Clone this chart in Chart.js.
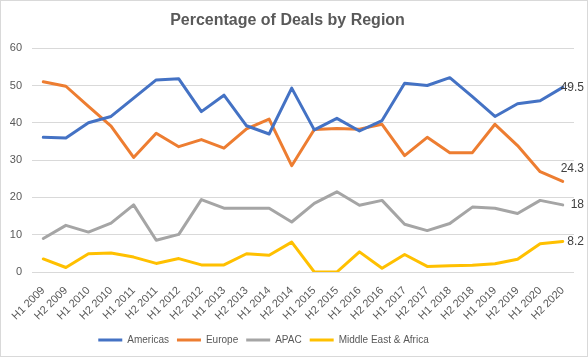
<!DOCTYPE html>
<html>
<head>
<meta charset="utf-8">
<script src="https://cdn.jsdelivr.net/npm/chart.js@4.4.1/dist/chart.umd.min.js"></script>
<style>
  html, body { margin: 0; padding: 0; background: #fff; }
  #wrap { width: 588px; height: 357px; box-sizing: border-box; border: 1px solid #d9d9d9; background: #fff; }
  canvas { display: block; }
</style>
</head>
<body>
<div id="wrap"><canvas id="c" width="586" height="355"></canvas></div>
<script>
const categories = ["H1 2009","H2 2009","H1 2010","H2 2010","H1 2011","H2 2011","H1 2012","H2 2012",
  "H1 2013","H2 2013","H1 2014","H2 2014","H1 2015","H2 2015","H1 2016","H2 2016",
  "H1 2017","H2 2017","H1 2018","H2 2018","H1 2019","H2 2019","H1 2020","H2 2020"];
const americas = [36.1,35.9,40.0,41.7,46.6,51.5,51.8,43.0,47.4,39.2,37.0,49.3,38.1,41.2,37.8,40.6,50.6,50.0,52.1,47.0,41.7,45.1,45.9,49.5];
const europe   = [51.0,49.8,44.4,39.1,30.7,37.2,33.6,35.5,33.2,38.4,41.0,28.5,38.2,38.5,38.3,39.6,31.2,36.1,32.0,32.0,39.6,33.9,26.9,24.3];
const apac     = [9.0,12.5,10.7,13.1,18.0,8.5,10.1,19.4,17.1,17.1,17.1,13.4,18.4,21.5,17.9,19.2,12.8,11.1,13.0,17.4,17.1,15.7,19.2,18.0];
const mea      = [3.5,1.2,4.9,5.1,4.0,2.3,3.6,1.9,1.9,4.9,4.5,8.0,0.0,0.0,5.4,1.0,4.7,1.5,1.7,1.8,2.2,3.4,7.6,8.2];
const yTicks = [0,10,20,30,40,50,60];

const FONT = "'Liberation Sans', Arial, sans-serif";
const GREY = "#595959";

function ds(label, data, color, labelShift) {
  return { label, data, borderColor: color, backgroundColor: color, borderWidth: 3,
    pointRadius: 0, pointHoverRadius: 0, tension: 0, fill: false, labelShift,
    borderCapStyle: 'round', borderJoinStyle: 'round' };
}

const lastLabels = {
  id: 'lastLabels',
  afterDatasetsDraw(chart) {
    const ctx = chart.ctx;
    ctx.save();
    ctx.font = "12px " + FONT;
    ctx.fillStyle = "#404040";
    ctx.textAlign = "right";
    ctx.textBaseline = "middle";
    chart.data.datasets.forEach((d, i) => {
      const meta = chart.getDatasetMeta(i);
      const pt = meta.data[meta.data.length - 1];
      const v = d.data[d.data.length - 1];
      ctx.fillText(String(v % 1 === 0 ? v.toFixed(0) : v), chart.chartArea.right + 10, pt.y + (d.labelShift || 0));
    });
    ctx.restore();
  }
};

const legendShift = {
  id: 'legendShift',
  afterLayout(chart) {
    if (chart.legend) { chart.legend.right -= 48; }
  }
};

new Chart(document.getElementById('c'), {
  type: 'line',
  data: {
    labels: categories,
    datasets: [
      ds('Americas', americas, '#4472C4', 0),
      ds('Europe', europe, '#ED7D31', -13),
      ds('APAC', apac, '#A5A5A5', 0),
      ds('Middle East & Africa', mea, '#FFC000', 0)
    ]
  },
  options: {
    responsive: false,
    animation: false,
    devicePixelRatio: 1,
    layout: { padding: { left: 0, right: 13, top: 0, bottom: 1 } },
    plugins: {
      title: { display: true, text: 'Percentage of Deals by Region', color: GREY,
        font: { family: FONT, size: 16, weight: 'bold' }, padding: { top: 10, bottom: 18 } },
      legend: { position: 'bottom',
        labels: { color: GREY, font: { family: FONT, size: 10 }, boxWidth: 24, boxHeight: 3, padding: 8,
          generateLabels(chart) {
            const items = Chart.defaults.plugins.legend.labels.generateLabels(chart);
            items.forEach(it => { it.lineWidth = 0; it.fillStyle = it.strokeStyle; });
            return items;
          } } },
      tooltip: { enabled: false }
    },
    scales: {
      x: {
        offset: true,
        grid: { display: false, drawTicks: false },
        border: { display: false },
        ticks: { color: GREY, font: { family: FONT, size: 11 }, minRotation: 45, maxRotation: 45, autoSkip: false, padding: 12 },
        afterFit(s) { s.height = 55; }
      },
      y: {
        min: 0, max: 60,
        afterBuildTicks(s) { s.ticks = yTicks.map(v => ({ value: v })); },
        grid: { color: '#d9d9d9', drawTicks: false, lineWidth: 1 },
        border: { display: false },
        ticks: { color: GREY, font: { family: FONT, size: 11 }, padding: 10 },
        afterFit(s) { s.width = 31; }
      }
    }
  },
  plugins: [lastLabels, legendShift]
});
</script>
</body>
</html>
